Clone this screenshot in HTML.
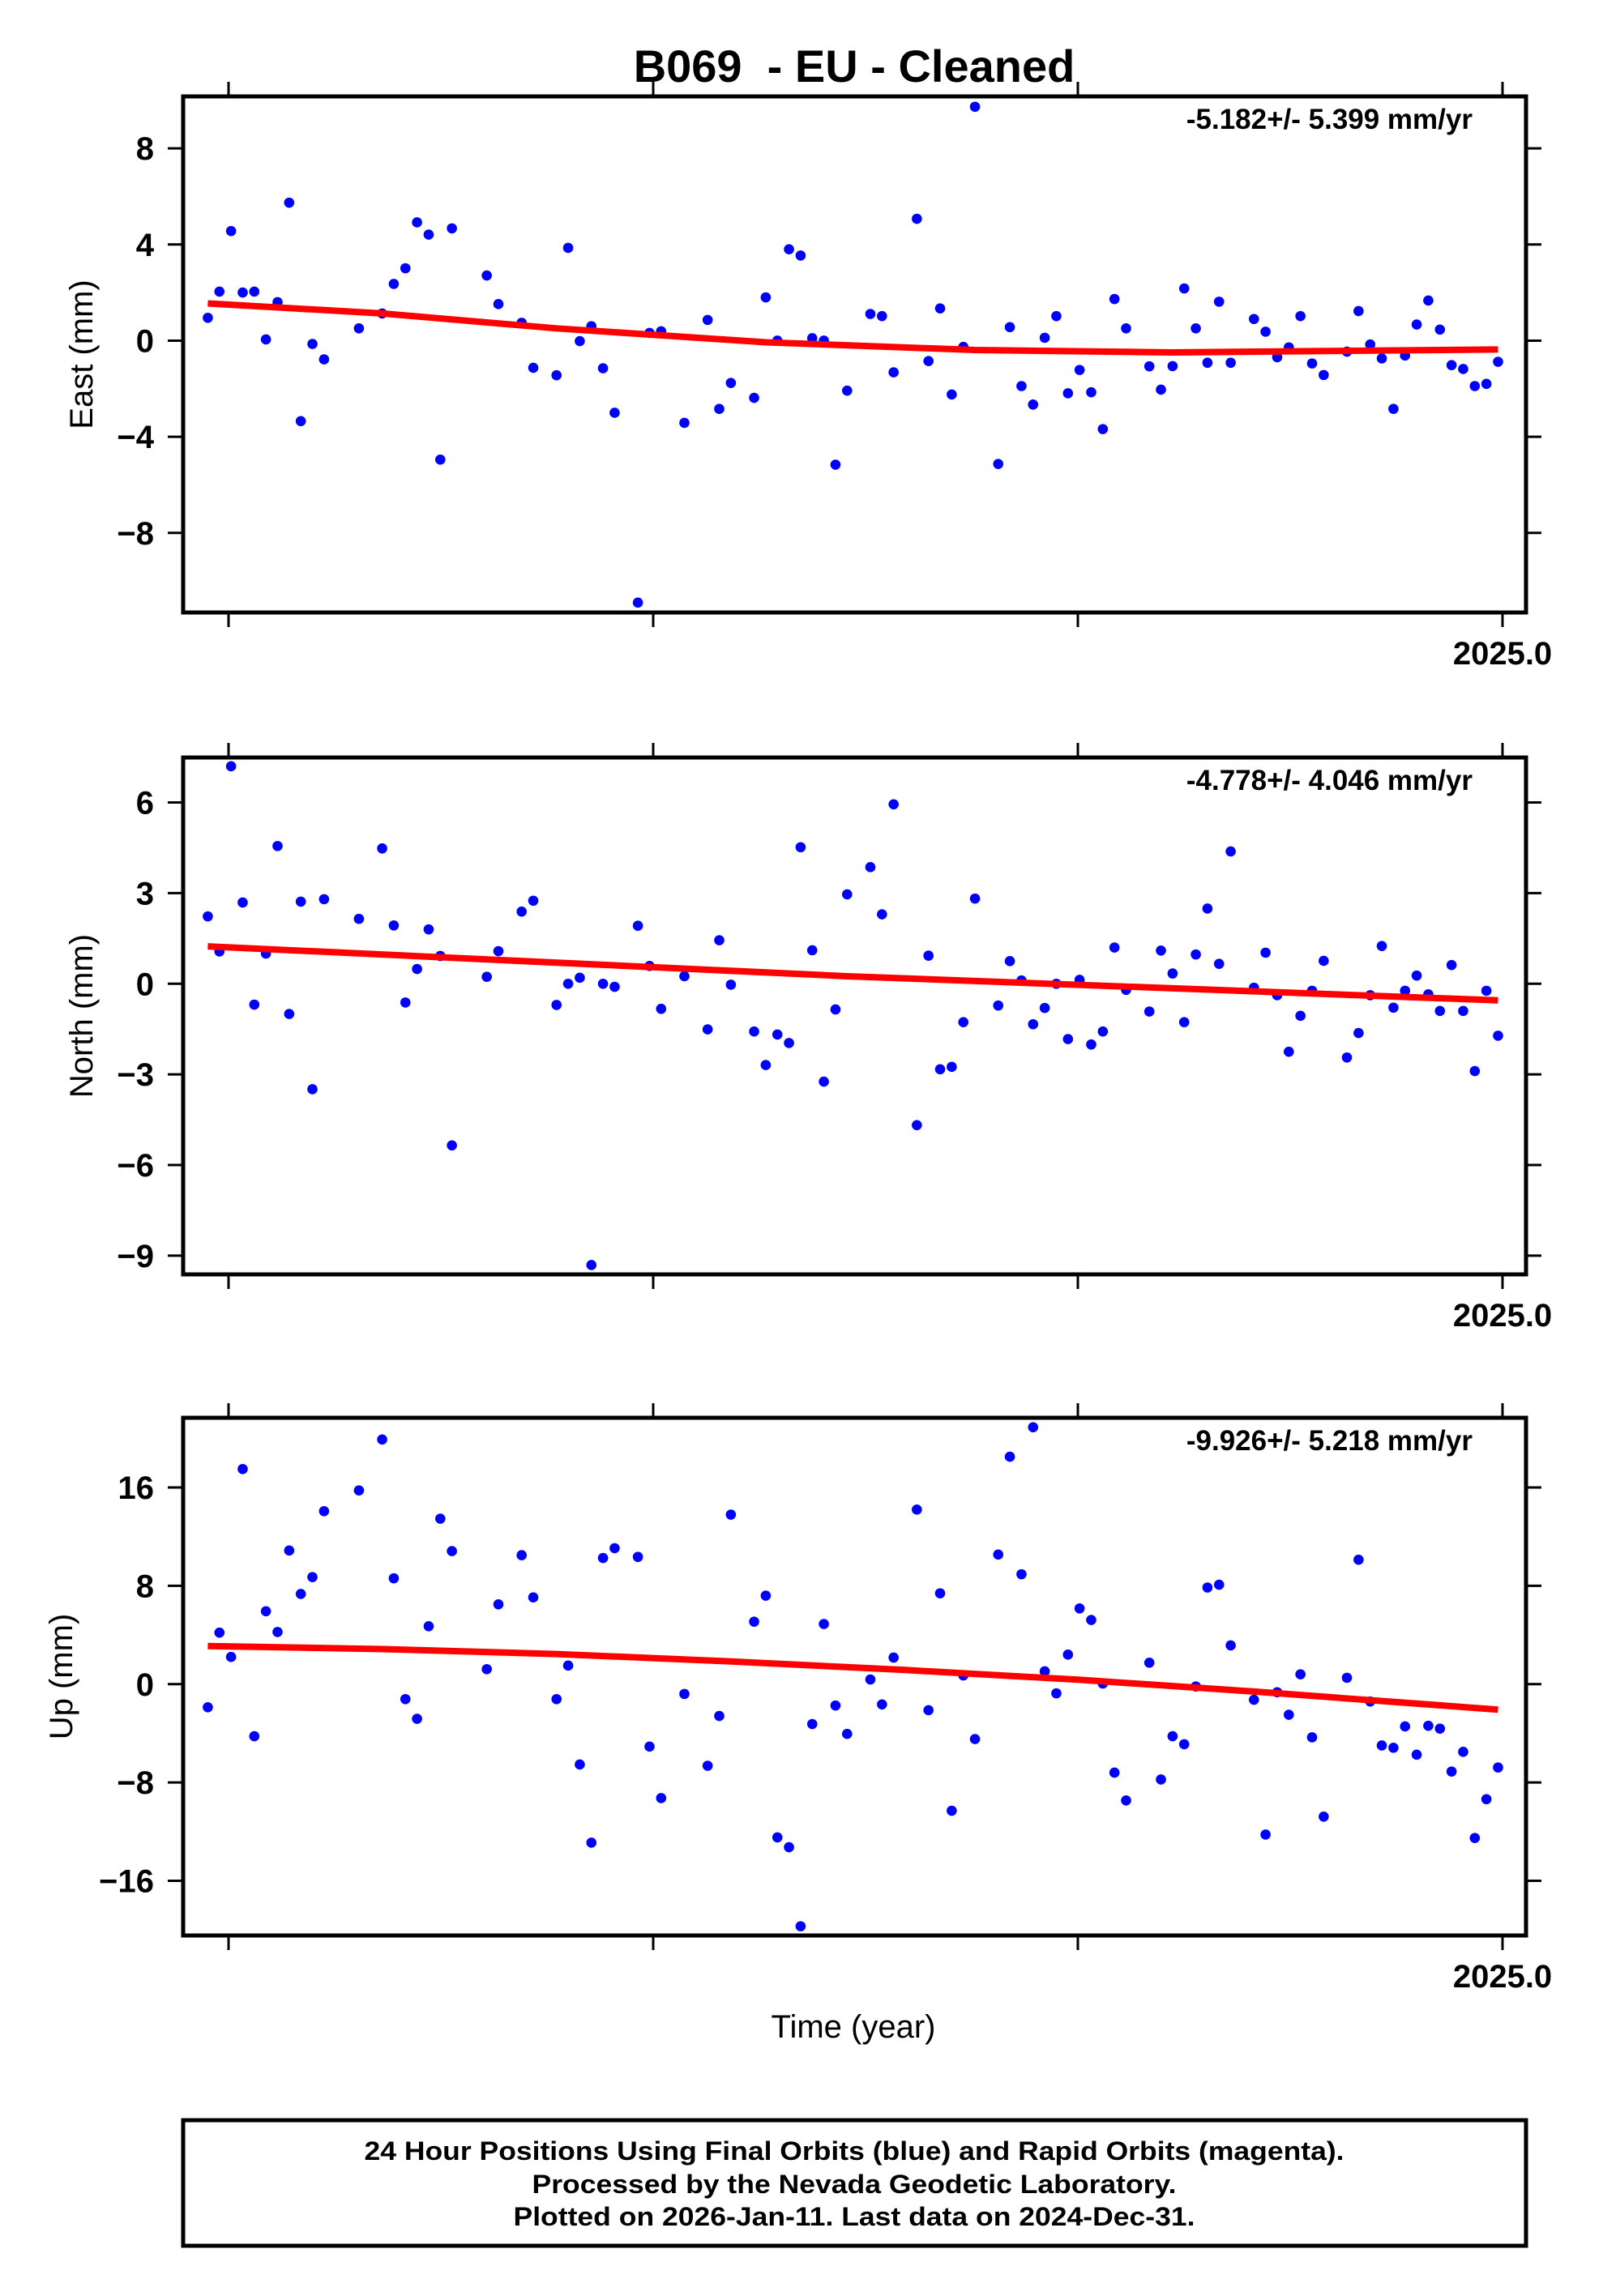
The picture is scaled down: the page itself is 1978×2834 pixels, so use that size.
<!DOCTYPE html>
<html><head><meta charset="utf-8"><style>
html,body{margin:0;padding:0;background:#fff}
svg{display:block}
text{font-family:"Liberation Sans",Arial,sans-serif}
</style></head><body>
<svg id="chart" width="1978" height="2834" viewBox="0 0 1978 2834" xmlns="http://www.w3.org/2000/svg">
<rect x="0" y="0" width="1978" height="2834" fill="#fff"/>
<text x="1054" y="101" text-anchor="middle" font-size="56" font-weight="bold" style="white-space:pre" xml:space="preserve">B069  - EU - Cleaned</text>
<g id="panels"></g>
<text x="1053" y="2515" text-anchor="middle" font-size="40">Time (year)</text>
<g>
<rect x="226" y="2617" width="1657" height="155" fill="none" stroke="#000" stroke-width="5"/>
<text x="1054" y="2666" text-anchor="middle" font-size="32" font-weight="bold" textLength="1209" lengthAdjust="spacingAndGlyphs">24 Hour Positions Using Final Orbits (blue) and Rapid Orbits (magenta).</text>
<text x="1054" y="2707" text-anchor="middle" font-size="32" font-weight="bold" textLength="795" lengthAdjust="spacingAndGlyphs">Processed by the Nevada Geodetic Laboratory.</text>
<text x="1054" y="2747" text-anchor="middle" font-size="32" font-weight="bold" textLength="841" lengthAdjust="spacingAndGlyphs">Plotted on 2026-Jan-11. Last data on 2024-Dec-31.</text>
</g>
</svg>
<script>
const N = null;
const xTicks = [2024.25, 2024.5, 2024.75, 2025.0];
const xTickLabels = ["", "", "", "2025.0"];
const tStart = 2024.2378, tStep = 0.006843;
const eastValues = [0.95,2.04,4.56,2.0,2.04,0.05,1.6,5.74,-3.35,-0.14,-0.78,N,N,0.51,N,1.13,2.36,3.01,4.92,4.41,-4.95,4.67,N,N,2.71,1.52,N,0.74,-1.13,N,-1.44,3.86,-0.02,0.6,-1.15,-3.0,N,-10.9,0.32,0.39,N,-3.42,N,0.86,-2.84,-1.76,N,-2.38,1.8,0.0,3.8,3.54,0.1,0.0,-5.16,-2.08,N,1.11,1.02,-1.32,N,5.07,-0.85,1.34,-2.24,-0.26,9.73,N,-5.13,0.56,-1.89,-2.66,0.12,1.02,-2.19,-1.22,-2.15,-3.68,1.73,0.51,N,-1.07,-2.04,-1.06,2.17,0.51,-0.92,1.62,-0.92,N,0.9,0.37,-0.69,-0.28,1.02,-0.95,-1.43,N,-0.46,1.23,-0.16,-0.74,-2.84,-0.62,0.67,1.67,0.46,-1.02,-1.18,-1.89,-1.8,-0.88];
const northValues = [2.23,1.07,7.2,2.69,-0.69,1.0,4.56,-1.0,2.72,-3.49,2.8,N,N,2.15,N,4.48,1.93,-0.62,0.49,1.8,0.92,-5.35,N,N,0.23,1.08,N,2.39,2.75,N,-0.7,0.0,0.2,-9.31,0.0,-0.1,N,1.92,0.59,-0.83,N,0.25,N,-1.51,1.44,-0.03,N,-1.58,-2.69,-1.68,-1.96,4.52,1.11,-3.24,-0.85,2.96,N,3.86,2.3,5.94,N,-4.68,0.93,-2.83,-2.75,-1.27,2.82,N,-0.72,0.75,0.11,-1.34,-0.8,0.0,-1.83,0.13,-2.01,-1.58,1.2,-0.2,N,-0.92,1.1,0.34,-1.27,0.97,2.49,0.66,4.38,N,-0.13,1.03,-0.38,-2.25,-1.06,-0.23,0.76,N,-2.44,-1.63,-0.38,1.25,-0.79,-0.23,0.27,-0.35,-0.9,0.62,-0.9,-2.89,-0.23,-1.72];
const upValues = [-1.88,4.19,2.21,17.5,-4.24,5.93,4.24,10.87,7.34,8.71,14.07,N,N,15.76,N,19.9,8.61,-1.22,-2.82,4.71,13.46,10.82,N,N,1.22,6.49,N,10.49,7.06,N,-1.22,1.51,-6.54,-12.9,10.26,11.06,N,10.35,-5.08,-9.27,N,-0.8,N,-6.64,-2.59,13.79,N,5.08,7.2,-12.47,-13.27,-19.7,-3.25,4.89,-1.74,-4.05,N,0.38,-1.65,2.16,N,14.2,-2.12,7.39,-10.3,0.71,-4.47,N,10.54,18.5,8.94,20.9,1.04,-0.75,2.4,6.16,5.22,0.05,-7.2,-9.46,N,1.74,-7.76,-4.24,-4.89,-0.19,7.86,8.09,3.15,N,-1.27,-12.24,-0.66,-2.49,0.8,-4.33,-10.78,N,0.52,10.12,-1.41,-4.99,-5.18,-3.44,-5.74,-3.39,-3.62,-7.11,-5.51,-12.52,-9.36,-6.78];
const eastFitIdx = [0,15,30,48,66,83,111];
const eastFitVals = [1.55,1.13,0.51,-0.07,-0.39,-0.49,-0.37];
const northFitIdx = [0,55,111];
const northFitVals = [1.24,0.25,-0.55];
const upFitIdx = [0,15,30,45,60,75,90,111];
const upFitVals = [3.1,2.85,2.45,1.85,1.15,0.35,-0.6,-2.07];
const eastTicks = [8,4,0,-4,-8];
const northTicks = [6,3,0,-3,-6,-9];
const upTicks = [16,8,0,-8,-16];
const rateLabels = ["-5.182+/- 5.399 mm/yr","-4.778+/- 4.046 mm/yr","-9.926+/- 5.218 mm/yr"];
const axisTitles = ["East (mm)","North (mm)","Up (mm)"];

const NS="http://www.w3.org/2000/svg";
const L=226,R=1883;
function xScale(t){return 1854+(t-2025)*2096;}
function tOf(k){return tStart+k*tStep;}
function mk(tag,attrs,parent){const e=document.createElementNS(NS,tag);for(const k in attrs)e.setAttribute(k,attrs[k]);parent.appendChild(e);return e;}
const panelsG=document.getElementById('panels');
const panels=[
 {name:'east',top:119,bot:756,min:-11.31,max:10.16,vals:eastValues,fi:eastFitIdx,fv:eastFitVals,ticks:eastTicks,titleX:101},
 {name:'north',top:935,bot:1573,min:-9.62,max:7.49,vals:northValues,fi:northFitIdx,fv:northFitVals,ticks:northTicks,titleX:101},
 {name:'up',top:1750,bot:2389,min:-20.45,max:21.67,vals:upValues,fi:upFitIdx,fv:upFitVals,ticks:upTicks,titleX:76}
];
panels.forEach((p,pi)=>{
 const g=mk('g',{},panelsG);
 
 
 const y=v=>p.bot-(v-p.min)/(p.max-p.min)*(p.bot-p.top);
 p.ticks.forEach(v=>{
  const yy=y(v);
  const tl=mk('line',{x1:207,x2:L,y1:yy,y2:yy,stroke:'#000','stroke-width':3},g);
  
  
  const tr=mk('line',{x1:R,x2:1902,y1:yy,y2:yy,stroke:'#000','stroke-width':3},g);
  
  
  const lab=mk('text',{x:190,y:yy+14,'text-anchor':'end','font-size':40,'font-weight':'bold'},g);
  lab.textContent=(v<0?'\u2212'+Math.abs(v):String(v));
  
  
 });
 xTicks.forEach((t,i)=>{
  const xx=xScale(t);
  const a=mk('line',{x1:xx,x2:xx,y1:p.top-18,y2:p.top,stroke:'#000','stroke-width':3},g);
  
  
  const b=mk('line',{x1:xx,x2:xx,y1:p.bot,y2:p.bot+18,stroke:'#000','stroke-width':3},g);
  
  
  if(xTickLabels[i]){
   const lb=mk('text',{x:xx,y:p.bot+64,'text-anchor':'middle','font-size':40,'font-weight':'bold'},g);
   lb.textContent=xTickLabels[i];
   
   
  }
 });
 p.vals.forEach((v,k)=>{
  if(v===null)return;
  const c=mk('circle',{cx:xScale(tOf(k)),cy:y(v),r:6.3,fill:'#0000ff'},g);
  
  
 });
 const pts=p.fi.map((k,i)=>xScale(tOf(k)).toFixed(1)+','+y(p.fv[i]).toFixed(1)).join(' ');
 const fl=mk('polyline',{points:pts,fill:'none',stroke:'#ff0000','stroke-width':8,'stroke-linejoin':'round'},g);
 
 
 const fr=mk('rect',{x:L,y:p.top,width:R-L,height:p.bot-p.top,fill:'none',stroke:'#000','stroke-width':5},g);
 
 
 const rt=mk('text',{x:1817,y:p.top+40,'text-anchor':'end','font-size':35,'font-weight':'bold'},g);
 rt.textContent=rateLabels[pi];
 
 
 const cy=(p.top+p.bot)/2;
 const at=mk('text',{x:p.titleX,y:cy,'text-anchor':'middle','dominant-baseline':'central','font-size':40,transform:'rotate(-90 '+p.titleX+' '+cy+')'},g);
 at.textContent=axisTitles[pi];
 
 
});
</script>
</body></html>
